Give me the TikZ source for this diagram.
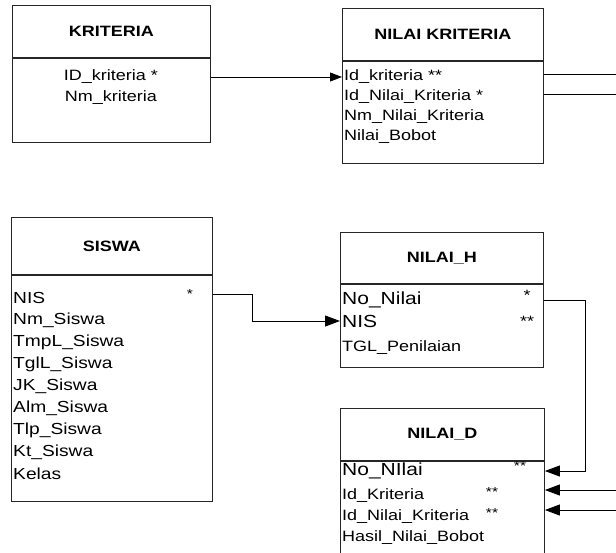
\documentclass[tikz,border=0pt]{standalone}
\usepackage{fontspec}
\setmainfont{Liberation Sans}[FakeStretch=1.2]
\usetikzlibrary{positioning, arrows.meta, calc}

\begin{document}
\begin{tikzpicture}[
        x=1pt, y=-1pt,
        >={Triangle[length=15pt, width=11pt]},
        entity/.style={draw=black!85, rectangle, inner sep=0pt, anchor=north west, line width=0.9pt},
        head/.style={entity, font=\bfseries\fontsize{15}{18}\selectfont},
        attr/.style={inner sep=0pt, anchor=west, font=\fontsize{15}{18}\selectfont},
        bigattr/.style={attr, font=\fontsize{17.5}{20}\selectfont},
        key/.style={inner sep=0pt, font=\fontsize{13}{15}\selectfont},
        link/.style={draw=black, line width=0.9pt},
    ]
    \useasboundingbox (0,0) rectangle (616,552);
    \clip (0,0) rectangle (616,552);

        % Draw the KRITERIA table
        \node[head, minimum width=198pt, minimum height=52pt] (kriteria) at (12,5) {KRITERIA};
        \node[entity, minimum width=198pt, minimum height=84pt] (kriteria-b) at (kriteria.south west) {};
        \node[attr, anchor=center] (K-1) at (111,77) {ID\_kriteria *};
        \node[attr, anchor=center] (K-2) at (111,98) {Nm\_kriteria};

        % Draw the NILAI KRITERIA table
        \node[head, minimum width=201pt, minimum height=52pt] (nk) at (342,8) {NILAI KRITERIA};
        \node[entity, minimum width=201pt, minimum height=102pt] (nk-b) at (nk.south west) {};
        \foreach \i/\txt in {1/Id\_kriteria **, 2/Id\_Nilai\_Kriteria *, 3/Nm\_Nilai\_Kriteria, 4/Nilai\_Bobot}
            \node[attr] (NK-\i) at (344,57+20*\i) {\txt};

        % Draw the SISWA table
        \node[head, minimum width=201pt, minimum height=57pt] (siswa) at (11,217) {SISWA};
        \node[entity, minimum width=201pt, minimum height=226pt] (siswa-b) at (siswa.south west) {};
        \foreach \i/\txt in {1/NIS, 2/Nm\_Siswa, 3/TmpL\_Siswa, 4/TglL\_Siswa, 5/JK\_Siswa,
                6/Alm\_Siswa, 7/Tlp\_Siswa, 8/Kt\_Siswa, 9/Kelas}
            \node[attr, font=\fontsize{16}{19}\selectfont] (S-\i) at (13,276+22*\i) {\txt};
        \node[key] (S-k) at (190,294) {*};

        % Draw the NILAI_H table
        \node[head, minimum width=203pt, minimum height=51pt] (nilaih) at (340,232) {NILAI\_H};
        \node[entity, minimum width=203pt, minimum height=83pt] (nilaih-b) at (nilaih.south west) {};
        \node[bigattr] (H-1) at (342,300) {No\_Nilai};
        \node[bigattr] (H-2) at (342,321) {NIS};
        \node[attr] (H-3) at (342,348) {TGL\_Penilaian};
        \node[key, font=\fontsize{15}{18}\selectfont] (H-k1) at (527,295) {*};
        \node[key, font=\fontsize{15}{18}\selectfont] (H-k2) at (527,321) {**};

        % Draw the NILAI_D table
        \node[head, minimum width=204pt, minimum height=52pt] (nilaid) at (340,408) {NILAI\_D};
        \node[entity, minimum width=204pt, minimum height=130pt] (nilaid-b) at (nilaid.south west) {};
        \node[bigattr] (D-1) at (342,471) {No\_NIlai};
        \node[attr] (D-2) at (342,496) {Id\_Kriteria};
        \node[attr] (D-3) at (342,517) {Id\_Nilai\_Kriteria};
        \node[attr] (D-4) at (342,538) {Hasil\_Nilai\_Bobot};
        \node[key] (D-k1) at (520,466) {**};
        \node[key] (D-k2) at (492,492) {**};
        \node[key] (D-k3) at (492,513) {**};

        % Loose ends at the right border
        \coordinate (edge-1) at (616,74);
        \coordinate (edge-2) at (616,94);
        \coordinate (edge-3) at (616,490);
        \coordinate (edge-4) at (616,510);

        % Connect the tables
        \draw[link, -{Triangle[length=12pt, width=9pt]}] (kriteria-b.east |- K-1) -- (nk-b.west |- K-1);
        \foreach \e in {1,2}
            \draw[link] (edge-\e -| nk-b.east) -- (edge-\e);
        \draw[link, ->] (siswa-b.east |- S-k) -- ++(40,0) |- (nilaih-b.west |- H-2);
        \draw[link, ->] (nilaih-b.east |- H-1) -- ++(42,0) |- (nilaid-b.east |- D-1);
        \foreach \e in {3,4}
            \draw[link, ->] (edge-\e) -- (edge-\e -| nilaid-b.east);
\end{tikzpicture}
\end{document}
